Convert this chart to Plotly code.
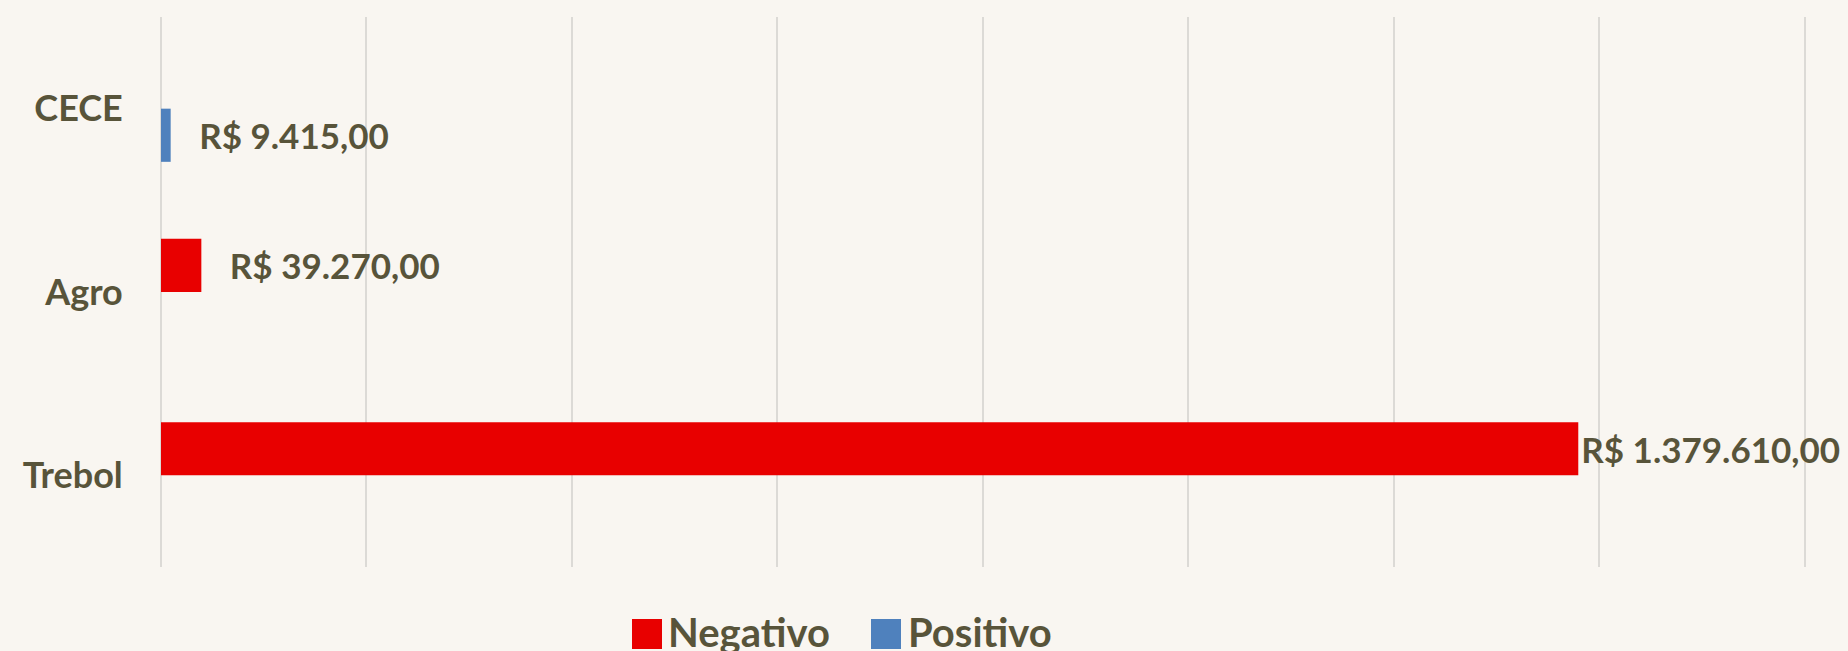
import plotly.graph_objects as go

# ---- data ----
categories = ["CECE", "Agro", "Trebol"]
negativo = [None, 39270.00, 1379610.00]
positivo = [9415.00, None, None]
series_names = ["Negativo", "Positivo"]
x_ticks = [0, 200000, 400000, 600000, 800000, 1000000, 1200000, 1400000, 1600000]

# ---- style ----
RED = "#e80000"
BLUE = "#4f81bd"
TXT = "#58543a"
BG = "#f9f6f1"
GRID = "#dcdad6"
FONT = "Lato"
NBSP = "\u00a0"


def brl(v):
    s = f"{v:,.2f}".replace(",", "X").replace(".", ",").replace("X", ".")
    return f"R$ {s}"


def labels(vals):
    out = []
    for v in vals:
        if v is None:
            out.append("")
        else:
            pad = "" if v > 1e6 else NBSP * 3
            out.append(pad + brl(v))
    return out


fig = go.Figure()
fig.add_trace(go.Bar(
    y=categories, x=negativo, orientation="h", name=series_names[0],
    marker=dict(color=RED, line=dict(width=0)),
    text=labels(negativo), textposition="outside", cliponaxis=False,
    constraintext="none",
    textfont=dict(family=FONT, size=35, color=TXT, weight="bold"),
    showlegend=False,
))
fig.add_trace(go.Bar(
    y=categories, x=positivo, orientation="h", name=series_names[1],
    marker=dict(color=BLUE, line=dict(width=0)),
    text=labels(positivo), textposition="outside", cliponaxis=False,
    constraintext="none",
    textfont=dict(family=FONT, size=35, color=TXT, weight="bold"),
    showlegend=False,
))

L, R, T, B = 161, 42, 17, 84
W, H = 1848, 651
pw = W - L - R
ph = H - T - B


def px_x(px):
    return (px - L) / pw


def px_y(py):
    return (H - B - py) / ph


# custom legend (large swatches like the original)
shapes = []
annotations = []
leg = [(series_names[0], RED, 632, 666), (series_names[1], BLUE, 871, 906)]
for name, col, sx, tx in leg:
    shapes.append(dict(type="rect", xref="paper", yref="paper",
                       x0=px_x(sx), x1=px_x(sx + 30), y0=px_y(619), y1=px_y(649),
                       fillcolor=col, line=dict(width=0)))
    annotations.append(dict(text=name, xref="paper", yref="paper",
                            x=px_x(tx), y=px_y(632), xanchor="left", yanchor="middle",
                            showarrow=False,
                            font=dict(family=FONT, size=40, color=TXT, weight="bold")))

fig.update_layout(
    width=W, height=H,
    margin=dict(l=L, r=R, t=T, b=B, pad=0),
    paper_bgcolor=BG, plot_bgcolor=BG,
    barmode="group", bargap=0.42, bargroupgap=0,
    shapes=shapes, annotations=annotations,
    xaxis=dict(range=[x_ticks[0], x_ticks[-1] * 1.0008], tickvals=x_ticks, showticklabels=False,
               showgrid=True, gridcolor=GRID, gridwidth=2,
               zeroline=True, zerolinecolor=GRID, zerolinewidth=2,
               showline=False, fixedrange=True),
    yaxis=dict(categoryorder="array", categoryarray=categories, autorange="reversed",
               showgrid=False, zeroline=False, showline=False,
               ticks="outside", ticklen=30, tickcolor="rgba(0,0,0,0)",
               tickfont=dict(family=FONT, size=36, color=TXT, weight="bold")),
    font=dict(family=FONT, color=TXT),
)

fig.write_html(
    "out.html",
    config={"displayModeBar": False},
    post_script="document.body.style.margin='0';document.body.style.overflow='hidden';"
                "document.body.style.background='" + BG + "';",
)
